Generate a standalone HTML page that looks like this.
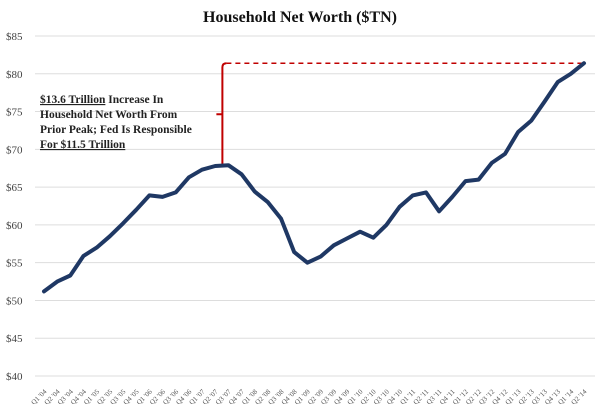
<!DOCTYPE html>
<html><head><meta charset="utf-8"><style>
body{margin:0;background:#fff}
svg{display:block;font-family:"Liberation Serif",serif}
</style></head><body>
<svg width="600" height="404">
<rect x="0" y="0" width="600" height="404" fill="#fff"/>
<text x="300" y="22" text-anchor="middle" font-size="16" font-weight="bold" fill="#111">Household Net Worth ($TN)</text>
<g id="grid"></g><g id="ylab"></g><g id="xlab"></g>
<g id="annot"></g>
<path id="line" fill="none" stroke="#1f3864" stroke-width="4" stroke-linejoin="round" stroke-linecap="round"/>
<g font-size="11.5" font-weight="bold" fill="#222">
<text x="40" y="103"><tspan text-decoration="underline">$13.6 Trillion</tspan> Increase In</text>
<text x="40" y="118">Household Net Worth From</text>
<text x="40" y="133">Prior Peak; Fed Is Responsible</text>
<text x="40" y="148" text-decoration="underline">For $11.5 Trillion</text>
</g>
</svg>
<script>
const categories=[];
for(let y=4;y<=14;y++)for(let q=1;q<=4;q++){if(y===14&&q>2)break;categories.push("Q"+q+" '"+String(y).padStart(2,"0"));}
const values=[51.2,52.5,53.3,55.9,57.0,58.5,60.2,62.0,63.9,63.7,64.3,66.3,67.3,67.8,67.9,66.7,64.4,63.0,60.8,56.4,55.0,55.8,57.3,58.2,59.1,58.3,60.0,62.4,63.9,64.3,61.8,63.7,65.8,66.0,68.2,69.4,72.3,73.8,76.3,78.9,80.0,81.4];
const yTicks=[40,45,50,55,60,65,70,75,80,85];
const peakIndex=14;
const NS="http://www.w3.org/2000/svg";
const yS=v=>376-(v-40)*(340/45);
const xS=i=>44+i*(540/(categories.length-1));
function mk(t,a,p){const e=document.createElementNS(NS,t);for(const k in a)e.setAttribute(k,a[k]);p.appendChild(e);return e;}
const grid=document.getElementById('grid'),yl=document.getElementById('ylab'),xl=document.getElementById('xlab');
yTicks.forEach(v=>{
 const g=mk('line',{x1:35,x2:595,y1:yS(v),y2:yS(v),stroke:'#ddd','stroke-width':1},grid);
 
 
 const t=mk('text',{x:6,y:yS(v)+4,'font-size':11,fill:'#444'},yl);
 t.textContent='$'+v;
 
 
});
categories.forEach((c,i)=>{
 const x=xS(i)+3,y=392;
 const t=mk('text',{x:x,y:y,'font-size':7,fill:'#555','text-anchor':'end',transform:`rotate(-45 ${x} ${y})`},xl);
 t.textContent=c;
 
 
});
document.getElementById('line').setAttribute('d',values.map((v,i)=>(i?'L':'M')+xS(i).toFixed(1)+' '+yS(v).toFixed(1)).join(' '));
const an=document.getElementById('annot');
const lastIdx=values.length-1, topY=yS(values[lastIdx]), bx=xS(peakIndex)-6, peakY=yS(values[peakIndex]);
const d=mk('line',{x1:bx+4,x2:xS(lastIdx),y1:topY,y2:topY,stroke:'#c00000','stroke-width':1.5,'stroke-dasharray':'5,4'},an);


const midY=(topY+peakY)/2;
const b=mk('path',{d:`M${bx+4} ${topY} Q${bx} ${topY} ${bx} ${topY+4} L${bx} ${peakY} M${bx} ${midY} L${bx-6} ${midY}`,stroke:'#c00000','stroke-width':2,fill:'none'},an);


</script>
</body></html>
